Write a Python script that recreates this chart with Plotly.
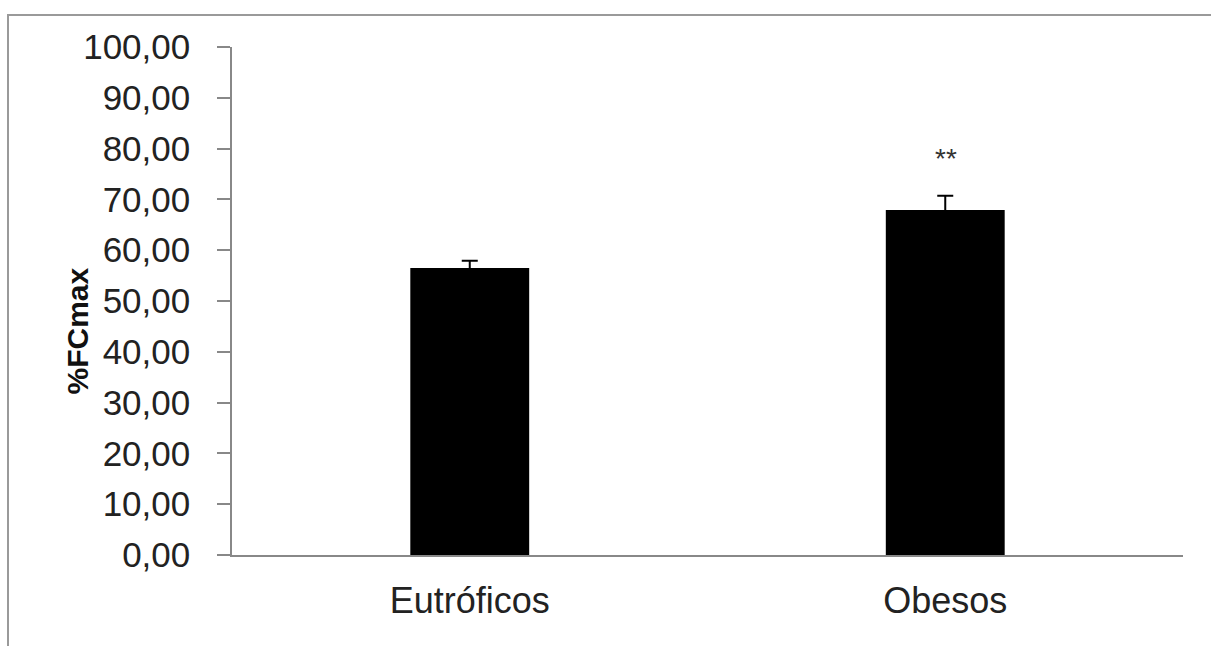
import plotly.graph_objects as go

categories = ["Eutróficos", "Obesos"]
values = [56.5, 67.9]
errors = [1.4, 2.8]
y_ticks = [0, 10, 20, 30, 40, 50, 60, 70, 80, 90, 100]
sig_label = "**"
sig_y = 78.0

W, H = 1211, 646
L, R, T, B = 232, 28, 47, 91
pw, ph = W - L - R, H - T - B

fig = go.Figure()
fig.add_trace(go.Bar(
    x=categories, y=values, width=0.25,
    marker=dict(color="black", line=dict(width=0)),
    error_y=dict(type="data", array=errors, visible=True,
                 color="black", thickness=2, width=8),
))

fig.add_annotation(x=categories[1], y=sig_y, text=sig_label, showarrow=False,
                   font=dict(family="Liberation Sans, Arial", size=28, color="#333"),
                   xref="x", yref="y", xshift=1)

fig.add_annotation(x=(58 - L) / pw, y=(555 - 331) / ph, xref="paper", yref="paper",
                   text="<b>%FCmax</b>", textangle=-90, showarrow=False,
                   font=dict(family="Liberation Sans, Arial", size=30, color="#111"))

# outer frame
fig.add_shape(type="rect", xref="paper", yref="paper",
              x0=(8 - L) / pw, x1=(1220 - L) / pw,
              y0=(555 - 660) / ph, y1=(555 - 15) / ph,
              line=dict(color="#9a9a9a", width=2), layer="below")

fig.update_layout(
    width=W, height=H,
    margin=dict(l=L, r=R, t=T, b=B),
    paper_bgcolor="white", plot_bgcolor="white",
    separators=",.",
    showlegend=False,
    bargap=0.75,
    font=dict(family="Liberation Sans, Arial", color="#222"),
)
fig.update_yaxes(
    range=[0, 100], tickvals=y_ticks, tickformat=".2f",
    showline=True, linecolor="#888", linewidth=1.5,
    ticks="outside", ticklen=13, tickcolor="#888", tickwidth=1.5,
    showgrid=False, zeroline=False,
    tickfont=dict(size=35, color="#222"),
    ticklabelstandoff=20,
)
fig.update_xaxes(
    showline=True, linecolor="#888", linewidth=1.5,
    ticks="", showgrid=False,
    tickfont=dict(size=36, color="#222"),
    ticklabelstandoff=13,
)

fig.write_html("out.html")
